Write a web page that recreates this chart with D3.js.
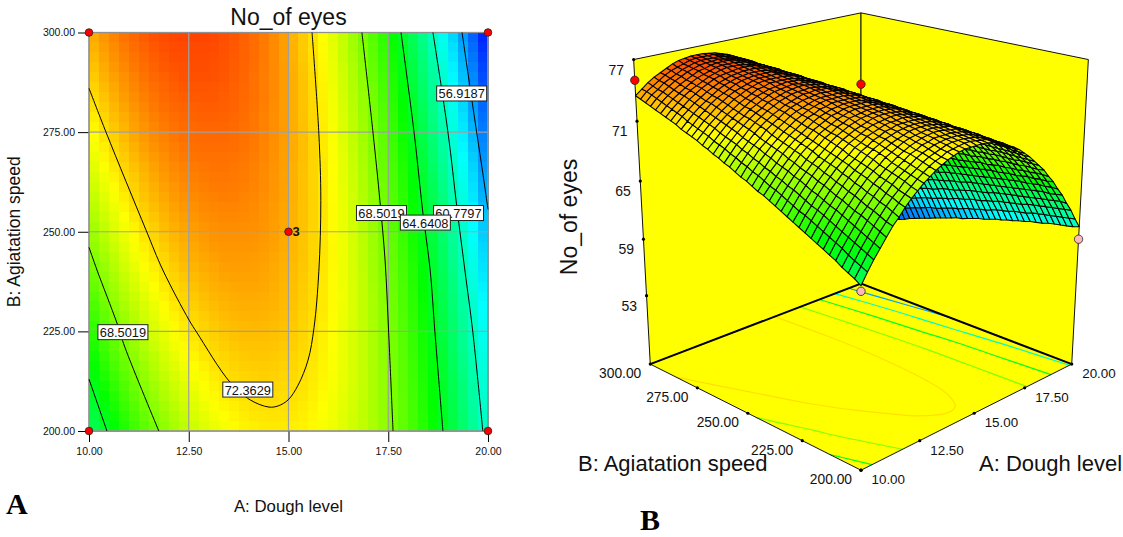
<!DOCTYPE html>
<html>
<head>
<meta charset="utf-8">
<script src="https://cdn.jsdelivr.net/npm/d3@7"></script>
<style>
  body { margin: 0; background: #fff; }
  text { font-family: "Liberation Sans", Arial, sans-serif; fill: #111; }
  .panel-letter { font-family: "Liberation Serif", serif; font-weight: bold; font-size: 30px; fill: #000; }
</style>
</head>
<body>
<div id="chart"></div>
<script>
const doughTicks = [10, 12.5, 15, 17.5, 20]
const speedTicks = [200, 225, 250, 275, 300]
const eyesTicks = [53, 59, 65, 71, 77]
const doughGrid = [10, 10.25, 10.5, 10.75, 11, 11.25, 11.5, 11.75, 12, 12.25, 12.5, 12.75, 13, 13.25, 13.5, 13.75, 14, 14.25, 14.5, 14.75, 15, 15.25, 15.5, 15.75, 16, 16.25, 16.5, 16.75, 17, 17.25, 17.5, 17.75, 18, 18.25, 18.5, 18.75, 19, 19.25, 19.5, 19.75, 20]
const speedGrid = [300, 297.5, 295, 292.5, 290, 287.5, 285, 282.5, 280, 277.5, 275, 272.5, 270, 267.5, 265, 262.5, 260, 257.5, 255, 252.5, 250, 247.5, 245, 242.5, 240, 237.5, 235, 232.5, 230, 227.5, 225, 222.5, 220, 217.5, 215, 212.5, 210, 207.5, 205, 202.5, 200]

// response height in tenths of an eye, estimated from the colours and contours
// one row per speedGrid value, one column per doughGrid value
const eyesTenths = [
[735,740,745,749,752,755,758,760,761,762,762,762,761,760,758,756,753,750,746,742,737,731,726,719,712,705,697,688,679,670,660,649,638,626,614,601,588,574,560,545,530],
[733,739,743,747,751,754,756,758,760,761,761,761,761,759,758,756,753,750,746,742,737,732,726,720,713,706,698,689,680,671,661,650,639,628,616,603,590,577,563,548,533],
[731,737,741,746,749,752,755,757,759,760,760,760,760,759,757,755,753,750,746,742,737,732,726,720,714,706,698,690,681,672,662,652,641,630,618,605,592,579,565,550,535],
[729,735,740,744,748,751,754,756,758,759,759,760,759,758,757,755,753,750,746,742,737,732,727,721,714,707,699,691,682,673,664,653,642,631,619,607,594,581,567,553,538],
[727,733,738,742,746,749,752,755,756,758,759,759,759,758,756,755,752,749,746,742,738,733,727,721,715,708,700,692,684,674,665,655,644,633,621,609,596,583,569,555,540],
[725,731,736,740,744,748,751,753,755,757,758,758,758,757,756,754,752,749,746,742,738,733,728,722,715,708,701,693,685,676,666,656,645,634,623,611,598,585,571,557,542],
[723,729,734,739,743,746,749,752,754,756,757,757,757,756,755,754,752,749,746,742,738,733,728,722,716,709,702,694,686,677,667,657,647,636,624,612,600,587,573,559,545],
[721,727,732,737,741,745,748,751,753,754,755,756,756,756,755,753,751,749,746,742,738,733,728,723,716,710,702,695,687,678,668,659,648,637,626,614,602,589,575,561,547],
[719,725,730,735,739,743,746,749,751,753,754,755,755,755,754,753,751,748,745,742,738,733,728,723,717,710,703,696,687,679,670,660,650,639,628,616,604,591,577,564,549],
[716,722,728,733,737,741,745,748,750,752,753,754,754,754,753,752,750,748,745,742,738,733,729,723,717,711,704,696,688,680,671,661,651,640,629,617,605,593,579,566,551],
[714,720,726,731,736,740,743,746,749,751,752,753,753,753,753,751,750,748,745,742,738,734,729,723,718,711,704,697,689,681,672,662,652,642,631,619,607,594,581,568,554],
[712,718,724,729,734,738,742,745,747,749,751,752,752,752,752,751,749,747,745,741,738,734,729,724,718,712,705,698,690,682,673,663,653,643,632,621,609,596,583,570,556],
[710,716,722,727,732,736,740,743,746,748,750,751,751,751,751,750,749,747,744,741,738,734,729,724,718,712,706,698,691,682,674,664,655,644,634,622,610,598,585,572,558],
[707,714,720,725,730,734,738,741,744,747,748,750,750,750,750,749,748,746,744,741,737,734,729,724,719,713,706,699,691,683,675,666,656,646,635,624,612,600,587,574,560],
[705,711,717,723,728,732,736,740,743,745,747,748,749,750,749,749,747,746,743,741,737,733,729,724,719,713,707,700,692,684,676,667,657,647,636,625,614,601,589,576,562],
[702,709,715,721,726,730,735,738,741,744,746,747,748,749,748,748,747,745,743,740,737,733,729,724,719,713,707,700,693,685,677,668,658,648,638,627,615,603,591,578,564],
[700,707,713,719,724,729,733,736,740,742,744,746,747,748,748,747,746,745,743,740,737,733,729,724,719,714,707,701,693,686,677,669,659,649,639,628,617,605,592,579,566],
[697,704,711,716,722,727,731,735,738,741,743,745,746,746,747,746,745,744,742,740,737,733,729,725,719,714,708,701,694,686,678,670,660,651,640,630,618,606,594,581,568],
[695,702,708,714,720,725,729,733,736,739,741,743,745,745,746,745,745,743,741,739,736,733,729,725,720,714,708,702,695,687,679,670,661,652,642,631,620,608,596,583,570],
[692,699,706,712,717,723,727,731,735,738,740,742,743,744,745,744,744,743,741,739,736,733,729,724,720,714,708,702,695,688,680,671,662,653,643,632,621,610,597,585,572],
[689,697,703,710,715,720,725,729,733,736,738,740,742,743,743,743,743,742,740,738,735,732,729,724,720,714,709,702,696,688,680,672,663,654,644,633,622,611,599,586,573],
[687,694,701,707,713,718,723,727,731,734,737,739,741,742,742,742,742,741,740,738,735,732,728,724,720,715,709,703,696,689,681,673,664,655,645,635,624,612,601,588,575],
[684,692,698,705,711,716,721,725,729,733,735,738,739,741,741,741,741,740,739,737,735,732,728,724,720,715,709,703,696,689,682,674,665,656,646,636,625,614,602,590,577],
[681,689,696,702,709,714,719,723,727,731,734,736,738,739,740,740,740,739,738,736,734,731,728,724,720,715,709,703,697,690,682,674,666,657,647,637,626,615,604,591,579],
[679,686,693,700,706,712,717,721,726,729,732,735,736,738,739,739,739,739,737,736,733,731,728,724,719,715,709,704,697,690,683,675,667,658,648,638,628,617,605,593,580],
[676,684,691,698,704,710,715,719,724,727,730,733,735,737,738,738,738,738,737,735,733,730,727,723,719,715,709,704,697,691,683,676,667,658,649,639,629,618,606,594,582],
[673,681,688,695,701,707,713,717,722,725,729,731,734,735,736,737,737,737,736,734,732,730,727,723,719,715,710,704,698,691,684,676,668,659,650,640,630,619,608,596,584],
[670,678,686,693,699,705,710,715,720,724,727,730,732,734,735,736,736,736,735,734,732,729,726,723,719,715,710,704,698,692,684,677,669,660,651,641,631,620,609,598,585],
[667,675,683,690,697,703,708,713,718,722,725,728,730,732,734,735,735,735,734,733,731,729,726,723,719,714,710,704,698,692,685,677,669,661,652,642,632,622,611,599,587],
[664,672,680,687,694,700,706,711,716,720,723,726,729,731,732,733,734,734,733,732,730,728,725,722,718,714,709,704,698,692,685,678,670,662,653,643,633,623,612,600,588],
[661,670,677,685,692,698,704,709,713,718,721,725,727,729,731,732,732,733,732,731,730,727,725,722,718,714,709,704,699,692,686,678,671,662,654,644,634,624,613,602,590],
[658,667,675,682,689,695,701,707,711,716,719,723,725,728,729,731,731,731,731,730,729,727,724,721,718,714,709,704,699,693,686,679,671,663,654,645,635,625,614,603,591],
[655,664,672,679,686,693,699,704,709,714,718,721,724,726,728,729,730,730,730,729,728,726,724,721,717,714,709,704,699,693,686,679,672,664,655,646,636,626,615,604,593],
[652,661,669,677,684,690,696,702,707,712,716,719,722,724,726,728,729,729,729,728,727,725,723,720,717,713,709,704,699,693,686,680,672,664,656,647,637,627,617,606,594],
[649,658,666,674,681,688,694,700,705,709,714,717,720,723,725,726,727,728,728,727,726,725,722,720,717,713,709,704,699,693,687,680,673,665,656,648,638,628,618,607,595],
[646,655,663,671,678,685,691,697,702,707,711,715,718,721,723,725,726,727,727,726,725,724,722,719,716,713,708,704,699,693,687,680,673,665,657,648,639,629,619,608,597],
[643,652,660,668,676,682,689,695,700,705,709,713,717,719,722,723,725,725,725,725,724,723,721,719,716,712,708,704,699,693,687,680,673,666,658,649,640,630,620,609,598],
[639,648,657,665,673,680,686,692,698,703,707,711,715,718,720,722,723,724,724,724,723,722,720,718,715,712,708,703,699,693,687,681,674,666,658,650,641,631,621,610,599],
[636,645,654,662,670,677,684,690,695,701,705,709,713,716,718,720,722,723,723,723,722,721,719,717,714,711,707,703,698,693,687,681,674,667,659,650,641,632,622,611,600],
[633,642,651,659,667,674,681,687,693,698,703,707,711,714,716,719,720,721,722,722,721,720,719,716,714,711,707,703,698,693,687,681,674,667,659,651,642,633,623,612,601],
[629,639,648,656,664,672,678,685,691,696,701,705,709,712,715,717,719,720,720,720,720,719,718,716,713,710,707,703,698,693,687,681,675,667,660,651,643,633,624,613,603]
]

// contour lines as [dough, speed] pairs
const contour72 = [[10,286],[10.43,274.9],[11.43,250.4],[11.85,240.4],[12.51,227.8],[12.71,224.6],[13.53,212.3],[14.04,207.8],[14.51,206],[14.74,206.3],[14.99,207.8],[15.24,211.5],[15.49,217.8],[15.64,226],[15.76,240],[15.81,257.9],[15.76,274.7],[15.59,300]]
const contour68Right = [[16.84,300],[17.12,274.7],[17.29,257.9],[17.42,242.9],[17.51,224.8],[17.62,200]]
const contour68Left = [[10,246.1],[10.2,240.4],[10.7,227.1],[10.9,221],[11.75,200]]
const contour64Right = [[17.82,300],[18.15,274.7],[18.37,254.6],[18.55,240.4],[18.67,224.8],[18.87,200]]
const contour64Left = [[10,213],[10.45,200]]
const contour60 = [[18.62,300],[19,274.7],[19.22,256.1],[19.42,240.4],[19.62,224.8],[19.87,200]]
const contour56 = [[19.35,300],[19.55,286.2],[19.72,274.7],[19.87,264.7],[20,255.6]]
const contourLines = [
  { level: 72.3629, points: contour72 },
  { level: 68.5019, points: contour68Right },
  { level: 68.5019, points: contour68Left },
  { level: 64.6408, points: contour64Right },
  { level: 64.6408, points: contour64Left },
  { level: 60.7797, points: contour60 },
  { level: 56.9187, points: contour56 }
]

const labelTexts = ['68.5019', '72.3629', '68.5019', '60.7797', '64.6408', '56.9187']
const labelDough = [10.85, 13.98, 17.33, 19.26, 18.43, 19.34]
const labelSpeed = [224.8, 210.4, 254.7, 254.7, 252.3, 284.7]

const designDough = [10, 20, 10, 20, 15]
const designSpeed = [300, 300, 200, 200, 250]

// actual runs as they sit in the 3D box
const runDough = [10, 20, 20, 10]
const runSpeed = [300, 300, 200, 200]
const runEyes = [75, 69.1, 59, 62.4]
const runColor = ['#f00', '#f00', '#ffb8b8', '#ffb8b8']

const eyesAt = (r, c) => eyesTenths[r][c] / 10

const svg = d3.select('#chart').append('svg')
  .attr('width', 1123)
  .attr('height', 537)
  .style('display', 'block')

const color = d3.scaleLinear()
  .domain([53, 59.2, 65.4, 71.6, 77.8])
  .range(['#0000ff', '#00ffff', '#00ff00', '#ffff00', '#ff0000'])
  .clamp(true)

/* ---------- A: contour plot ---------- */
const x = d3.scaleLinear().domain([10, 20]).range([89, 488])
const y = d3.scaleLinear().domain([200, 300]).range([431, 32.5])

const cells = []
d3.range(speedGrid.length - 1).forEach(r => {
  d3.range(doughGrid.length - 1).forEach(c => {
    cells.push({
      r, c,
      eyes: d3.mean([eyesAt(r, c), eyesAt(r, c + 1), eyesAt(r + 1, c), eyesAt(r + 1, c + 1)])
    })
  })
})

const flat = svg.append('g')

flat.append('g')
  .attr('shape-rendering', 'crispEdges')
  .selectAll('rect')
  .data(cells)
  .join('rect')
  .attr('x', d => x(doughGrid[d.c]))
  .attr('y', d => y(speedGrid[d.r]))
  .attr('width', d => x(doughGrid[d.c + 1]) - x(doughGrid[d.c]) + 0.5)
  .attr('height', d => y(speedGrid[d.r + 1]) - y(speedGrid[d.r]) + 0.5)
  .attr('fill', d => color(d.eyes))

// gray grid, then the black outside ticks
flat.append('g').selectAll('line.vgrid').data(doughTicks).join('line')
  .attr('x1', d => x(d)).attr('x2', d => x(d))
  .attr('y1', y(300)).attr('y2', y(200))
  .attr('stroke', '#a0a0a0').attr('stroke-width', 1.2)
flat.append('g').selectAll('line.hgrid').data(speedTicks).join('line')
  .attr('y1', d => y(d)).attr('y2', d => y(d))
  .attr('x1', x(10)).attr('x2', x(20))
  .attr('stroke', '#a0a0a0').attr('stroke-width', 1.2)

const tickFormat = d3.format('.2f')

const xAxis = flat.append('g')
  .attr('transform', `translate(0,${y(200)})`)
  .call(d3.axisBottom(x).tickValues(doughTicks).tickSize(11).tickPadding(6).tickFormat(tickFormat))
const yAxis = flat.append('g')
  .attr('transform', `translate(${x(10)},0)`)
  .call(d3.axisLeft(y).tickValues(speedTicks).tickSize(11).tickPadding(3).tickFormat(tickFormat))
xAxis.select('.domain').remove()
yAxis.select('.domain').remove()
flat.selectAll('.tick text')
  .style('font-family', '"Liberation Sans", Arial, sans-serif')
  .style('font-size', '10.5px')

flat.append('rect')
  .attr('x', x(10)).attr('y', y(300))
  .attr('width', x(20) - x(10)).attr('height', y(200) - y(300))
  .attr('fill', 'none').attr('stroke', '#909090').attr('stroke-width', 1.3)

const flatLine = d3.line()
  .x(d => x(d[0]))
  .y(d => y(d[1]))
  .curve(d3.curveCatmullRom)

flat.append('g').selectAll('path')
  .data(contourLines)
  .join('path')
  .attr('d', d => flatLine(d.points))
  .attr('fill', 'none')
  .attr('stroke', '#000')
  .attr('stroke-width', 1)

const labels = flat.append('g').selectAll('g')
  .data(labelTexts)
  .join('g')
  .attr('transform', (d, i) => `translate(${x(labelDough[i])},${y(labelSpeed[i])})`)
labels.append('rect')
  .attr('x', -25).attr('y', -7.5).attr('width', 50).attr('height', 15)
  .attr('fill', '#fff').attr('stroke', '#222').attr('stroke-width', 1)
labels.append('text')
  .attr('text-anchor', 'middle').attr('y', 5)
  .style('font-size', '12.8px')
  .text(d => d)

flat.append('g').selectAll('circle')
  .data(designDough)
  .join('circle')
  .attr('cx', d => x(d))
  .attr('cy', (d, i) => y(designSpeed[i]))
  .attr('r', 3.8)
  .attr('fill', '#f00')
  .attr('stroke', '#222')
  .attr('stroke-width', 0.8)

flat.append('text')
  .attr('x', x(15) + 4).attr('y', y(250) + 4.5)
  .style('font-size', '13px').style('font-weight', 'bold')
  .text('3')

flat.append('text')
  .attr('x', x(15)).attr('y', 25)
  .attr('text-anchor', 'middle')
  .style('font-size', '23px')
  .text('No_of eyes')
flat.append('text')
  .attr('x', x(15)).attr('y', 512)
  .attr('text-anchor', 'middle')
  .style('font-size', '16.8px')
  .text('A: Dough level')
flat.append('text')
  .attr('transform', `translate(20,${y(250)}) rotate(-90)`)
  .attr('text-anchor', 'middle')
  .style('font-size', '17.5px')
  .text('B: Agiatation speed')

/* ---------- B: 3D surface ---------- */
const camera = { cx: 861, cy: 217.6, focal: 1443, dist: 9.33, tilt: Math.asin(0.3387), half: 1.045 }
const unitA = d3.scaleLinear().domain([10, 20]).range([-1, 1])
const unitB = d3.scaleLinear().domain([200, 300]).range([-1, 1])
const unitZ = d3.scaleLinear().domain([45.5, 77]).range([-camera.half, camera.half])

const viewOf = (dough, speed, eyes) => {
  const a = unitA(dough), b = unitB(speed), w = unitZ(eyes)
  const across = (a - b) * Math.SQRT1_2
  const along = (a + b) * Math.SQRT1_2
  const depth = camera.dist + along * Math.cos(camera.tilt) - w * Math.sin(camera.tilt)
  return {
    px: camera.cx + camera.focal * across / depth,
    py: camera.cy - camera.focal * (w * Math.cos(camera.tilt) + along * Math.sin(camera.tilt)) / depth,
    depth
  }
}
const project = (dough, speed, eyes) => {
  const v = viewOf(dough, speed, eyes)
  return [v.px, v.py]
}

const box = svg.append('g')
const polygon = d3.line()

const floorZ = 45.5
const topZ = 77
const wallPath = pts => polygon(pts) + 'Z'

box.append('path')
  .attr('d', wallPath([project(10, 300, topZ), project(20, 300, topZ), project(20, 300, floorZ), project(10, 300, floorZ)]))
  .attr('fill', '#ffff00').attr('stroke', '#111').attr('stroke-width', 1)
box.append('path')
  .attr('d', wallPath([project(20, 300, topZ), project(20, 200, topZ), project(20, 200, floorZ), project(20, 300, floorZ)]))
  .attr('fill', '#ffff00').attr('stroke', '#111').attr('stroke-width', 1)
box.append('path')
  .attr('d', wallPath([project(10, 200, floorZ), project(20, 200, floorZ), project(20, 300, floorZ), project(10, 300, floorZ)]))
  .attr('fill', '#ffff00')

const floorLine = d3.line()
  .x(d => project(d[0], d[1], floorZ)[0])
  .y(d => project(d[0], d[1], floorZ)[1])
  .curve(d3.curveCatmullRom)

box.append('g').selectAll('path')
  .data(contourLines)
  .join('path')
  .attr('d', d => floorLine(d.points))
  .attr('fill', 'none')
  .attr('stroke', d => color(d.level))
  .attr('stroke-width', 1.2)

// heavy back edges of the floor, thin front edges
box.append('path')
  .attr('d', polygon([project(10, 300, floorZ), project(20, 300, floorZ), project(20, 200, floorZ)]))
  .attr('fill', 'none').attr('stroke', '#000').attr('stroke-width', 2)
box.append('path')
  .attr('d', polygon([project(10, 300, floorZ), project(10, 200, floorZ), project(20, 200, floorZ)]))
  .attr('fill', 'none').attr('stroke', '#111').attr('stroke-width', 1)

const quads = cells.map(d => {
  const corners = [[d.r, d.c], [d.r, d.c + 1], [d.r + 1, d.c + 1], [d.r + 1, d.c]]
    .map(([r, c]) => viewOf(doughGrid[c], speedGrid[r], eyesAt(r, c)))
  return { eyes: d.eyes, corners, depth: d3.mean(corners, v => v.depth) }
})
quads.sort((p, q) => q.depth - p.depth)

box.append('g').selectAll('path')
  .data(quads)
  .join('path')
  .attr('d', d => polygon(d.corners.map(v => [v.px, v.py])) + 'Z')
  .attr('fill', d => color(d.eyes))
  .attr('stroke', '#000')
  .attr('stroke-width', 1.05)
  .attr('stroke-linejoin', 'round')

// tick dots
const tickDot = (p) => box.append('circle').attr('cx', p[0]).attr('cy', p[1]).attr('r', 1.6).attr('fill', '#000')

eyesTicks.forEach(t => {
  const p = project(10, 300, t)
  tickDot(p)
  box.append('text')
    .attr('x', p[0] - 9.5).attr('y', p[1] + 15)
    .attr('text-anchor', 'end')
    .style('font-size', '14px')
    .text(t)
})
speedTicks.forEach(t => {
  const p = project(10, t, floorZ)
  tickDot(p)
  box.append('text')
    .attr('x', p[0] - 9).attr('y', p[1] + 14)
    .attr('text-anchor', 'end')
    .style('font-size', '13.8px')
    .text(tickFormat(t))
})
doughTicks.forEach(t => {
  const p = project(t, 200, floorZ)
  tickDot(p)
  box.append('text')
    .attr('x', p[0] + 10.5).attr('y', p[1] + 14)
    .style('font-size', '13.4px')
    .text(tickFormat(t))
})

box.append('g').selectAll('circle')
  .data(runDough)
  .join('circle')
  .attr('cx', (d, i) => project(d, runSpeed[i], runEyes[i])[0])
  .attr('cy', (d, i) => project(d, runSpeed[i], runEyes[i])[1])
  .attr('r', 4.2)
  .attr('fill', (d, i) => runColor[i])
  .attr('stroke', '#222')
  .attr('stroke-width', 0.8)

box.append('text')
  .attr('transform', 'translate(577,217) rotate(-90)')
  .attr('text-anchor', 'middle')
  .style('font-size', '23px')
  .text('No_of eyes')
box.append('text')
  .attr('x', 578).attr('y', 471)
  .style('font-size', '22px')
  .text('B: Agiatation speed')
box.append('text')
  .attr('x', 979).attr('y', 471)
  .style('font-size', '22px')
  .text('A: Dough level')

svg.append('text').attr('class', 'panel-letter').attr('x', 6).attr('y', 514).text('A')
svg.append('text').attr('class', 'panel-letter').attr('x', 640).attr('y', 530).text('B')
</script>
</body>
</html>
